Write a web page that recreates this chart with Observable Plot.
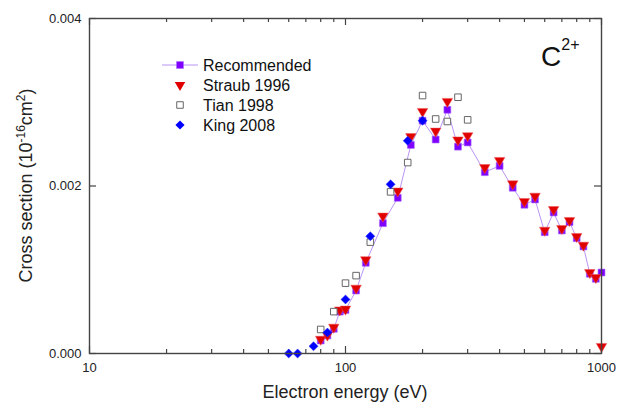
<!DOCTYPE html>
<html><head><meta charset="utf-8">
<script src="https://cdn.jsdelivr.net/npm/d3@7"></script>
<script src="https://cdn.jsdelivr.net/npm/@observablehq/plot@0.6"></script>
<style>body{margin:0;background:#fff}</style>
</head><body><div id="chart"></div>
<script>
// Recommended (line + filled purple squares)
const recE = [80,85,90,95,100,110,120,140,160,180,200,225,250,275,300,350,400,450,500,550,600,650,700,750,800,850,900,950,1000];
const recCS = [0.000155,0.000215,0.000295,0.00050,0.00052,0.000752,0.001083,0.001556,0.001859,0.00249,0.00278,0.002555,0.00291,0.00247,0.00252,0.002165,0.00224,0.001979,0.001776,0.001839,0.001448,0.001684,0.001469,0.001568,0.001377,0.001278,0.000952,0.000892,0.000967];
// Straub 1996
const straubE = [80,85,90,95,100,110,120,140,160,180,200,225,250,275,300,350,400,450,500,550,600,650,700,750,800,850,900,950,1000];
const straubCS = [0.00017,0.00022,0.000314,0.00052,0.00053,0.00078,0.00112,0.00164,0.00194,0.00259,0.00289,0.002655,0.00301,0.00255,0.0026,0.00222,0.002305,0.002026,0.001815,0.001878,0.001472,0.001719,0.001493,0.001588,0.001397,0.001293,0.000967,0.000907,0.000084];
// Tian 1998
const tianE = [80,90,100,110,125,150,175,200,225,250,275,300];
const tianCS = [0.000287,0.0005,0.00084,0.00093,0.00133,0.00193,0.00228,0.00308,0.0028,0.00277,0.00306,0.00279];
// King 2008
const kingE = [60,65,75,85,100,125,150,175,200];
const kingCS = [0,0,0.000087,0.00025,0.000645,0.0014,0.00202,0.00254,0.00278];

const xMajor = [10,100,1000];
const xMinor = [20,30,40,50,60,70,80,90,200,300,400,500,600,700,800,900];
const yMajor = [0,0.002,0.004];

const seriesNames = ["Recommended","Straub 1996","Tian 1998","King 2008"];

const zip = (E, C) => E.map((e,i) => ({E: e, CS: C[i]}));
const rec = zip(recE, recCS), straub = zip(straubE, straubCS), tian = zip(tianE, tianCS), king = zip(kingE, kingCS);

const W = 617, H = 403, mL = 89, mR = 16, mT = 18, mB = 50;
const fh = H - mT - mB;
const font = "'Liberation Sans', Arial, sans-serif";

const plot = Plot.plot({
  width: W, height: H,
  marginLeft: mL, marginRight: mR, marginTop: mT, marginBottom: mB,
  style: {fontFamily: font, fontSize: "13px", background: "white", color: "#222"},
  x: {type: "log", domain: [10, 1000], label: null},
  y: {domain: [0, 0.004], label: null},
  marks: [
    Plot.axisX({ticks: xMajor, tickSize: 0, tickPadding: 9, tickFormat: d => String(d), fontSize: 13, label: null}),
    Plot.axisY({ticks: yMajor, tickSize: 0, tickPadding: 8, tickFormat: d3.format(".3f"), fontSize: 13, label: null}),
    // inward ticks on all four sides
    Plot.tickX(xMajor, {x: d => d, insetTop: fh - 7, stroke: "#444", strokeWidth: 1.2}),
    Plot.tickX(xMajor, {x: d => d, insetBottom: fh - 7, stroke: "#444", strokeWidth: 1.2}),
    Plot.tickX(xMinor, {x: d => d, insetTop: fh - 4, stroke: "#444", strokeWidth: 1.2}),
    Plot.tickX(xMinor, {x: d => d, insetBottom: fh - 4, stroke: "#444", strokeWidth: 1.2}),
    Plot.tickY(yMajor, {y: d => d, insetRight: (W - mL - mR) - 7, stroke: "#444", strokeWidth: 1.2}),
    Plot.tickY(yMajor, {y: d => d, insetLeft: (W - mL - mR) - 7, stroke: "#444", strokeWidth: 1.2}),
    Plot.line(rec, {x: "E", y: "CS", stroke: "#b994f5", strokeWidth: 1}),
    Plot.dot(rec, {x: "E", y: "CS", symbol: "square", r: 3.9, fill: "#7f00ff", stroke: "#a46cff", strokeWidth: 0.6}),
    Plot.dot(straub, {x: "E", y: "CS", symbol: "triangle", rotate: 180, r: 3.9, fill: "#e00000", stroke: "#ee5555", strokeWidth: 0.5}),
    Plot.dot(tian, {x: "E", y: "CS", symbol: "square", r: 3.7, fill: "white", stroke: "#666", strokeWidth: 1}),
    Plot.dot(king, {x: "E", y: "CS", symbol: "diamond2", r: 4.1, fill: "#0000ff", stroke: "#3333ff", strokeWidth: 0.5}),
    Plot.frame({stroke: "#444", strokeWidth: 1.4})
  ]
});
document.getElementById("chart").appendChild(plot);

const svg = d3.select(plot);
// Axis titles
svg.append("text")
  .attr("x", mL + (W - mL - mR) / 2).attr("y", 398)
  .attr("text-anchor", "middle").attr("font-size", 18).attr("fill", "#222")
  .attr("font-family", font)
  .text("Electron energy (eV)");
const yt = svg.append("text")
  .attr("transform", `translate(32,${mT + fh / 2}) rotate(-90)`)
  .attr("text-anchor", "middle").attr("font-size", 18).attr("fill", "#222")
  .attr("font-family", font);
yt.append("tspan").text("Cross section (10");
yt.append("tspan").attr("font-size", 12).attr("dy", -7).text("-16");
yt.append("tspan").attr("dy", 7).text("cm");
yt.append("tspan").attr("font-size", 12).attr("dy", -7).text("2");
yt.append("tspan").attr("dy", 7).text(")");

// Ion label
const ion = svg.append("text").attr("x", 541).attr("y", 66).attr("text-anchor", "start")
  .attr("font-size", 28).attr("fill", "#111").attr("font-family", font);
ion.append("tspan").text("C");
ion.append("tspan").attr("font-size", 16).attr("dy", -16).text("2+");

// Legend
const legY = [65, 85, 105, 125];
const lx = 180;
const sym = (type, r) => d3.symbol(type, Math.PI * r * r)();
const lg = svg.append("g").attr("font-family", font).attr("font-size", 16).attr("fill", "#111").attr("text-anchor", "start");
lg.append("line").attr("x1", 162).attr("x2", 198).attr("y1", legY[0]).attr("y2", legY[0]).attr("stroke", "#b994f5").attr("stroke-width", 1);
lg.append("path").attr("d", sym(d3.symbolSquare, 3.9)).attr("transform", `translate(${lx},${legY[0]})`).attr("fill", "#7f00ff").attr("stroke", "#a46cff").attr("stroke-width", 0.6);
lg.append("path").attr("d", sym(d3.symbolTriangle, 3.9)).attr("transform", `translate(${lx},${legY[1]}) rotate(180)`).attr("fill", "#e00000");
lg.append("path").attr("d", sym(d3.symbolSquare, 3.7)).attr("transform", `translate(${lx},${legY[2]})`).attr("fill", "white").attr("stroke", "#666");
lg.append("path").attr("d", sym(d3.symbolDiamond2, 4.1)).attr("transform", `translate(${lx},${legY[3]})`).attr("fill", "#0000ff");
seriesNames.forEach((n, i) => {
  lg.append("text").attr("x", 203).attr("y", legY[i]).attr("dy", "0.36em").attr("text-anchor", "start").text(n);
});
</script></body></html>
